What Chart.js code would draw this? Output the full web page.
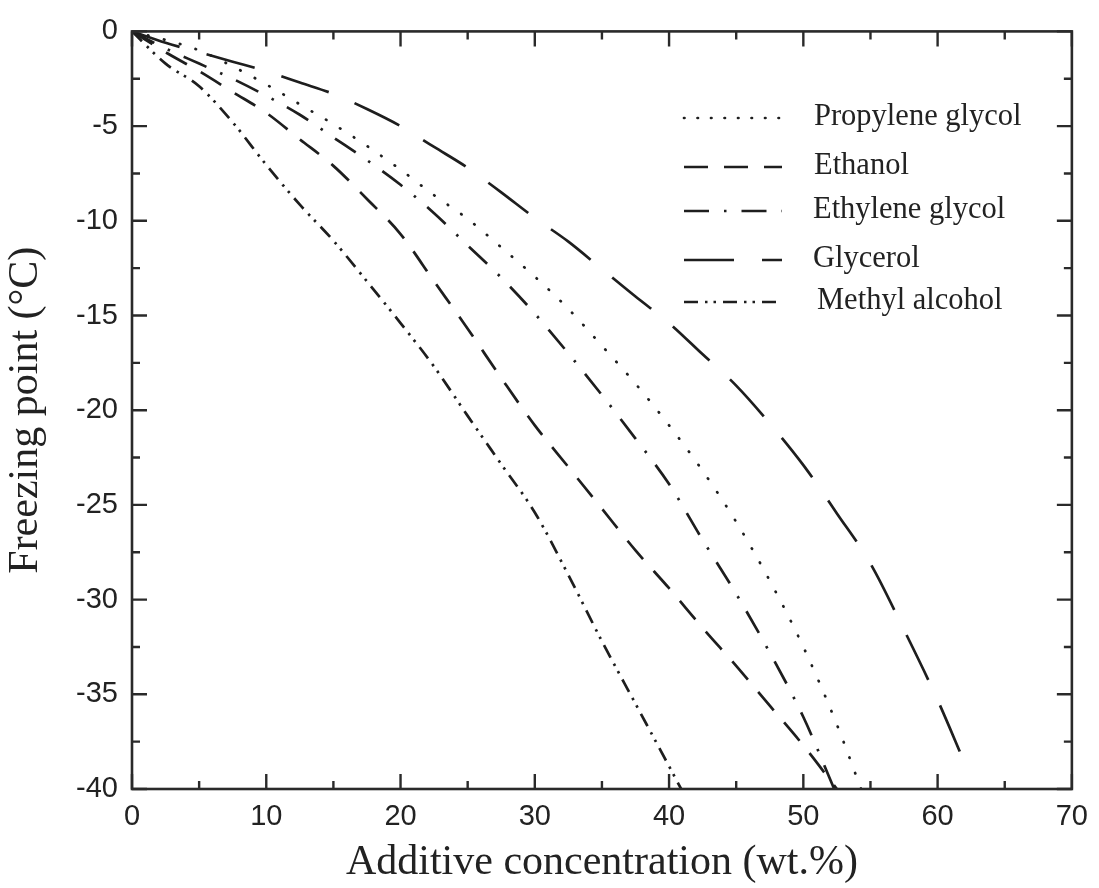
<!DOCTYPE html>
<html>
<head>
<meta charset="utf-8">
<script src="https://cdn.jsdelivr.net/npm/chart.js@4.4.0/dist/chart.umd.min.js"></script>
<style>
  html, body { margin: 0; padding: 0; background: #fff; }
</style>
</head>
<body>
<canvas id="freezeChart" width="1099" height="888"></canvas>
<script>
// values: additive concentration (wt.%) vs freezing point (degC)
var propyleneX = [0, 2.5, 5, 7.5, 10, 12.5, 15, 17.5, 20, 22.5, 25, 27.5, 30, 32.5, 35, 37.5, 40, 42.5, 45, 47.5, 50, 52.5, 54.3];
var propyleneY = [0, -0.45, -1.0, -1.85, -2.8, -3.85, -4.9, -6.05, -7.3, -8.65, -9.9, -11.4, -12.95, -14.65, -16.6, -18.6, -20.8, -23.2, -25.9, -29.0, -32.5, -36.6, -40];

var ethanolX = [0, 2.5, 5, 7.5, 10, 12.5, 15, 17.5, 20, 22.5, 25, 27.5, 30, 32.5, 35, 37.5, 40, 42.5, 45, 47.5, 50, 52.5];
var ethanolY = [0, -1.1, -2.1, -3.2, -4.3, -5.7, -7.1, -8.85, -10.7, -13.2, -15.7, -18.3, -20.8, -23.0, -25.2, -27.4, -29.4, -31.5, -33.5, -35.6, -37.7, -40];

var ethyleneX = [0, 2.5, 5, 7.5, 10, 12.5, 15, 17.5, 20, 22.5, 25, 27.5, 30, 32.5, 35, 37.5, 40, 42.5, 45, 47.5, 50, 52.3];
var ethyleneY = [0, -0.9, -1.7, -2.5, -3.4, -4.4, -5.6, -6.8, -8.1, -9.6, -11.3, -13.0, -14.9, -17.0, -19.2, -21.5, -23.9, -26.85, -29.7, -32.8, -36.2, -40];

var glycerolX = [0, 2.5, 5, 7.5, 10, 12.5, 15, 17.5, 20, 22.5, 25, 27.5, 30, 32.5, 35, 37.5, 40, 42.5, 45, 47.5, 50, 52.5, 55, 57.5, 60, 62];
var glycerolY = [0, -0.6, -1.1, -1.6, -2.1, -2.7, -3.3, -4.1, -5.0, -6.1, -7.2, -8.5, -9.85, -11.1, -12.55, -14.0, -15.4, -17.05, -18.7, -20.7, -22.9, -25.45, -28.1, -31.6, -35.3, -38.6];

var methylX = [0, 2.5, 5, 7.5, 10, 12.5, 15, 17.5, 20, 22.5, 25, 27.5, 30, 32.5, 35, 37.5, 40, 40.9];
var methylY = [0, -1.7, -2.9, -4.8, -7.05, -9.15, -11.05, -13.2, -15.4, -17.7, -20.3, -22.85, -25.4, -28.7, -32.2, -35.5, -38.8, -40];

var seriesNames = ['Propylene glycol', 'Ethanol', 'Ethylene glycol', 'Glycerol', 'Methyl alcohol'];

var xTicksMin = 0, xTicksMax = 70, xStep = 10;
var yTicksMin = -40, yTicksMax = 0, yStep = 5;

function pts(xs, ys) {
    return xs.map(function (x, i) { return { x: x, y: ys[i] }; });
}

var ink = '#1e1e1e';
var serif = '"Liberation Serif", "Times New Roman", serif';
var sans = '"Liberation Sans", Arial, sans-serif';

function lineSet(label, xs, ys, dash, cap, legendDash) {
    return {
        label: label,
        data: pts(xs, ys),
        borderColor: ink,
        borderWidth: 2.7,
        borderDash: dash,
        borderCapStyle: cap || 'butt',
        legendDash: legendDash || dash,
        pointRadius: 0,
        fill: false,
        cubicInterpolationMode: 'monotone'
    };
}

// box + inward ticks on all four sides
var frameTicks = {
    id: 'frameTicks',
    afterDatasetsDraw: function (chart) {
        var ctx = chart.ctx, a = chart.chartArea;
        var xs = chart.scales.x, ys = chart.scales.y;
        ctx.save();
        ctx.strokeStyle = '#2a2a2a';
        ctx.lineWidth = 2.6;
        ctx.setLineDash([]);
        ctx.strokeRect(a.left, a.top, a.right - a.left, a.bottom - a.top);
        ctx.lineWidth = 2.4;
        ctx.beginPath();
        for (var v = xs.min; v <= xs.max; v += xStep / 2) {
            var px = xs.getPixelForValue(v);
            var len = (v % xStep === 0) ? 15 : 8;
            ctx.moveTo(px, a.bottom); ctx.lineTo(px, a.bottom - len);
            ctx.moveTo(px, a.top); ctx.lineTo(px, a.top + len);
        }
        for (var w = ys.min; w <= ys.max; w += yStep / 2) {
            var py = ys.getPixelForValue(w);
            var l2 = (w % yStep === 0) ? 15 : 8;
            ctx.moveTo(a.left, py); ctx.lineTo(a.left + l2, py);
            ctx.moveTo(a.right, py); ctx.lineTo(a.right - l2, py);
        }
        ctx.stroke();
        ctx.restore();
    }
};

// legend drawn inside the plot, top right
var insideLegend = {
    id: 'insideLegend',
    afterDraw: function (chart) {
        var ctx = chart.ctx;
        var rows = [118, 167, 211, 260, 302];
        var textX = [814, 814, 813, 813, 817];
        ctx.save();
        chart.data.datasets.forEach(function (ds, i) {
            ctx.strokeStyle = ink;
            ctx.lineWidth = ds.borderWidth;
            ctx.lineCap = ds.borderCapStyle;
            ctx.setLineDash(ds.legendDash);
            ctx.beginPath();
            ctx.moveTo(684, rows[i]);
            ctx.lineTo(782, rows[i]);
            ctx.stroke();
            ctx.setLineDash([]);
            ctx.fillStyle = '#222';
            ctx.font = '30.5px ' + serif;
            ctx.textBaseline = 'middle';
            ctx.fillText(ds.label, textX[i], rows[i] - 1.5);
        });
        ctx.restore();
    }
};

var ctx = document.getElementById('freezeChart').getContext('2d');
var myChart = new Chart(ctx, {
    type: 'line',
    data: {
        datasets: [
            lineSet(seriesNames[0], propyleneX, propyleneY, [0.5, 16], 'round', [0.5, 13]),
            lineSet(seriesNames[1], ethanolX, ethanolY, [24, 16]),
            lineSet(seriesNames[2], ethyleneX, ethyleneY, [25, 15, 2.5, 15]),
            lineSet(seriesNames[3], glycerolX, glycerolY, [50, 28]),
            lineSet(seriesNames[4], methylX, methylY, [14, 7, 2.5, 6, 2.5, 7])
        ]
    },
    options: {
        responsive: false,
        animation: false,
        devicePixelRatio: 1,
        layout: { padding: { top: 25, right: 25, left: 0, bottom: 0 } },
        plugins: {
            legend: { display: false },
            tooltip: { enabled: false }
        },
        scales: {
            x: {
                type: 'linear',
                min: xTicksMin,
                max: xTicksMax,
                grid: { display: false, drawTicks: false },
                border: { display: false },
                ticks: {
                    stepSize: xStep,
                    padding: 11,
                    color: '#222',
                    font: { family: sans, size: 29 }
                },
                title: {
                    display: true,
                    text: 'Additive concentration (wt.%)',
                    color: '#222',
                    font: { family: serif, size: 42 },
                    padding: { top: 0, bottom: 0 }
                },
                afterFit: function (scale) { scale.height = 99; }
            },
            y: {
                type: 'linear',
                min: yTicksMin,
                max: yTicksMax,
                grid: { display: false, drawTicks: false },
                border: { display: false },
                ticks: {
                    stepSize: yStep,
                    padding: 14,
                    color: '#222',
                    font: { family: sans, size: 29 }
                },
                title: {
                    display: true,
                    text: 'Freezing point (\u00B0C)',
                    color: '#222',
                    font: { family: serif, size: 42 },
                    padding: { top: 1, bottom: 0 }
                },
                afterFit: function (scale) { scale.width = 132; }
            }
        }
    },
    plugins: [frameTicks, insideLegend]
});
</script>
</body>
</html>
